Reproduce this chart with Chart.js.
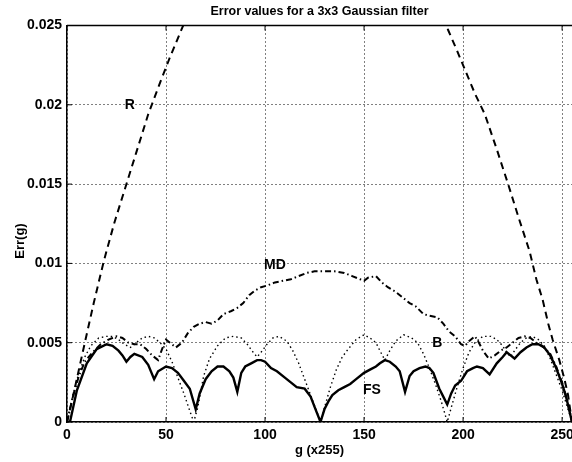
<!DOCTYPE html>
<html><head><meta charset="utf-8">
<script src="https://cdn.jsdelivr.net/npm/chart.js@4.4.0/dist/chart.umd.min.js"></script>
<style>
html,body{margin:0;padding:0;background:#fff;overflow:hidden;}
#wrap{position:relative;width:572px;height:462px;}
</style></head><body>
<div id="wrap"><canvas id="c"></canvas></div>
<script>
const chartTitle = 'Error values for a 3x3 Gaussian filter';
const xAxisTitle = 'g (x255)';
const yAxisTitle = 'Err(g)';
const xTicks = [0, 50, 100, 150, 200, 250];
const yTicks = [0, 0.005, 0.01, 0.015, 0.02, 0.025];
const yTickLabels = ['0', '0.005', '0.01', '0.015', '0.02', '0.025'];

// FS (solid)
const fsX = [0,1.5,5,10,15,20,23,26,28,30,32,34,38,41,44,46,50,53,56,59,62,65,67,70,73,76,79,82,84,86,88,90,93,96,98,100,103,106,110,113,116,120,123,125.5,128,130,132,134,137,140,143,146,150,153,156,158,160.5,163,166,168,170.7,173,175,178,181,183,185,188,190,192,194,196,199,202,205,207,210,213.4,217,220,222,224,226,229,232,235,238,241,244,247,250,252,255];
const fsY = [0,0,0.002,0.0037,0.0046,0.0049,0.0048,0.0045,0.0042,0.0038,0.0041,0.0043,0.0041,0.0036,0.0027,0.0032,0.0035,0.0034,0.0031,0.0026,0.0021,0.0008,0.0018,0.0027,0.0032,0.0035,0.0035,0.0032,0.0028,0.0019,0.0031,0.0035,0.0037,0.0039,0.0039,0.0038,0.0034,0.0032,0.0028,0.0025,0.0022,0.0021,0.0016,0.0008,0,0.0008,0.0013,0.0017,0.002,0.0022,0.0024,0.0027,0.0031,0.0033,0.0035,0.0037,0.0039,0.0038,0.0035,0.0032,0.0019,0.0029,0.0032,0.0034,0.0035,0.0034,0.0031,0.0021,0.0016,0.0011,0.0018,0.0023,0.0026,0.0032,0.0034,0.0035,0.0034,0.0030,0.0037,0.0041,0.0044,0.0042,0.0040,0.0044,0.0047,0.0049,0.0049,0.0047,0.0042,0.0034,0.0024,0.0016,0];

// B (dotted)
const bX = [0,3,6,9,12,16,20,23,26,29,32,35,38,41,44,47,50,53,56,59,62,64,66,69,72,76,80,84,88,91,94,96,98,101,104,107,111,114,117,120,123,126,128,130,133,136,139,142,146,150,153,156,158,160.5,163,166,170,174,177,180,183,186,189,192,194,197,200,203,206,210,214,217,220,222,224,226,229,232,235,238,241,244,247,250,253,255];
const bY = [0,0.0017,0.0031,0.0041,0.0048,0.0053,0.0054,0.0054,0.0052,0.0049,0.0047,0.0050,0.0053,0.0054,0.0053,0.0050,0.0046,0.0038,0.0028,0.0018,0.0007,0,0.0009,0.0029,0.0040,0.0048,0.0053,0.0054,0.0053,0.0049,0.0044,0.0041,0.0044,0.0049,0.0053,0.0054,0.0051,0.0045,0.0037,0.0027,0.0017,0.0007,0,0.0009,0.0022,0.0033,0.0041,0.0046,0.0052,0.0055,0.0053,0.0050,0.0045,0.0039,0.0045,0.0051,0.0055,0.0053,0.0050,0.0043,0.0034,0.0024,0.0013,0,0.0009,0.0022,0.0034,0.0044,0.0050,0.0054,0.0054,0.0052,0.0048,0.0044,0.0041,0.0045,0.0050,0.0053,0.0054,0.0052,0.0048,0.0040,0.0030,0.0020,0.0008,0];

// MD (dash-dot)
const mdX = [0,3,6,9,13,17,21,25,28,31,34,37,40,43,46,48,50,52,55,58,61,64,67,70,73,76,79,83,86,89,92,95,98,101,105,109,113,117,121,125,130,135,140,144,148,150,152,156,159,162,166,170,173,176,180,183,187,190,193,196,199,201,203,206,208,210,213,216,219,222,225,228,231,234,237,240,244,247,250,253,255];
const mdY = [0,0.0016,0.0029,0.0038,0.0044,0.0049,0.0052,0.0054,0.0053,0.0050,0.0049,0.0049,0.0046,0.0042,0.0039,0.0046,0.0052,0.0050,0.0047,0.0050,0.0056,0.0060,0.0062,0.0063,0.0062,0.0064,0.0068,0.0070,0.0072,0.0075,0.0080,0.0083,0.0085,0.0086,0.0088,0.0089,0.0090,0.0092,0.0094,0.0095,0.0095,0.0095,0.0094,0.0092,0.0090,0.0089,0.0091,0.0092,0.0088,0.0085,0.0082,0.0078,0.0075,0.0073,0.0068,0.0067,0.0066,0.0062,0.0057,0.0054,0.0049,0.0048,0.0051,0.0054,0.0050,0.0045,0.0040,0.0042,0.0045,0.0047,0.0050,0.0053,0.0054,0.0053,0.0050,0.0048,0.0043,0.0035,0.0025,0.0012,0];

// R (dashed), left and right branches
const rLeftX = [0,3,6,9,13.5,18.3,20,24,29,35,41,47,52,57,60];
const rLeftY = [0,0.0016,0.0033,0.005,0.0075,0.01,0.0108,0.0126,0.0146,0.0170,0.0194,0.0214,0.0230,0.0245,0.0254];
const rRightX = [190,192.5,197,202,206,211,217,223,228,233.5,237,240.2,243,245.2,248.6,251,253,255];
const rRightY = [0.0255,0.0247,0.0234,0.0219,0.0207,0.0194,0.0172,0.0149,0.0129,0.0108,0.0090,0.0077,0.0062,0.0052,0.0039,0.0028,0.0017,0];

// curve labels
const curveLabels = ['R', 'MD', 'B', 'FS'];
const labelX = [31.7, 105, 187, 154];
const labelY = [0.02, 0.0099, 0.005, 0.002];

function pts(xs, ys){ return xs.map((x,i)=>({x:x, y:ys[i]})); }

const FONT = '"Liberation Sans", Arial, Helvetica, sans-serif';

const decor = {
  id:'decor',
  afterDatasetsDraw(chart){
    const {ctx, chartArea:a, scales:{x, y}} = chart;
    ctx.save();
    ctx.strokeStyle = '#000';
    ctx.lineWidth = 1.5;
    ctx.setLineDash([]);
    ctx.beginPath();
    ctx.moveTo(a.left, a.top); ctx.lineTo(a.right, a.top);
    ctx.stroke();
    ctx.lineWidth = 1;
    ctx.beginPath();
    xTicks.forEach(v=>{ const px = x.getPixelForValue(v);
      ctx.moveTo(px, a.top); ctx.lineTo(px, a.top+5);
      ctx.moveTo(px, a.bottom); ctx.lineTo(px, a.bottom-5); });
    yTicks.forEach(v=>{ const py = y.getPixelForValue(v);
      ctx.moveTo(a.left, py); ctx.lineTo(a.left+5, py); });
    ctx.stroke();
    ctx.fillStyle = '#000';
    ctx.font = 'bold 14px ' + FONT;
    ctx.textAlign = 'center';
    ctx.textBaseline = 'middle';
    curveLabels.forEach((t,i)=>{
      ctx.fillText(t, x.getPixelForValue(labelX[i]), y.getPixelForValue(labelY[i]));
    });
    ctx.font = 'bold 12.5px ' + FONT;
    ctx.fillText(chartTitle, (a.left + a.right)/2, 12);
    ctx.translate(20, 241);
    ctx.rotate(-Math.PI/2);
    ctx.font = 'bold 13px ' + FONT;
    ctx.fillText(yAxisTitle, 0, 0);
    ctx.restore();
  }
};

new Chart(document.getElementById('c'), {
  type:'line',
  data:{ datasets:[
    {label:'FS', data:pts(fsX, fsY), borderColor:'#000', borderWidth:2.4, pointRadius:0, tension:0, fill:false},
    {label:'B', data:pts(bX, bY), borderColor:'#000', borderWidth:1.4, borderDash:[1.5,3], pointRadius:0, tension:0, fill:false},
    {label:'MD', data:pts(mdX, mdY), borderColor:'#000', borderWidth:2, borderDash:[6,3,1.5,3], pointRadius:0, tension:0, fill:false},
    {label:'R', data:pts(rLeftX, rLeftY), borderColor:'#000', borderWidth:2, borderDash:[7,5], pointRadius:0, tension:0, fill:false, clip:0},
    {label:'R2', data:pts(rRightX, rRightY), borderColor:'#000', borderWidth:2, borderDash:[7,5], pointRadius:0, tension:0, fill:false, clip:0}
  ]},
  options:{
    responsive:true, maintainAspectRatio:false, animation:false,
    layout:{padding:{left:0, right:-2.5, top:25.5, bottom:0}},
    plugins:{legend:{display:false}, tooltip:{enabled:false}, title:{display:false}},
    scales:{
      x:{type:'linear', min:0, max:255,
        afterBuildTicks(s){ s.ticks = xTicks.map(v=>({value:v})); },
        afterFit(s){ s.height = 40; s.paddingLeft = 0; s.paddingRight = 0; },
        grid:{color:'#000', lineWidth:1, drawTicks:false},
        border:{display:true, color:'#000', width:1.5, dash:[1,3]},
        ticks:{color:'#000', padding:5, maxRotation:0, font:{family:FONT, size:14, weight:'bold'}},
        title:{display:true, text:xAxisTitle, color:'#000', padding:{top:0,bottom:4}, font:{family:FONT, size:13, weight:'bold'}}
      },
      y:{type:'linear', min:0, max:0.025,
        afterBuildTicks(s){ s.ticks = yTicks.map(v=>({value:v})); },
        afterFit(s){ s.width = 67; s.paddingTop = 0; s.paddingBottom = 0; },
        grid:{color:'#000', lineWidth:1, drawTicks:false},
        border:{display:true, color:'#000', width:1.5, dash:[1,3]},
        ticks:{color:'#000', padding:5, font:{family:FONT, size:14, weight:'bold'},
          callback(v){ const i = yTicks.indexOf(v); return i>=0 ? yTickLabels[i] : ''; }},
        title:{display:false}
      }
    }
  },
  plugins:[decor]
});
</script>
</body></html>
